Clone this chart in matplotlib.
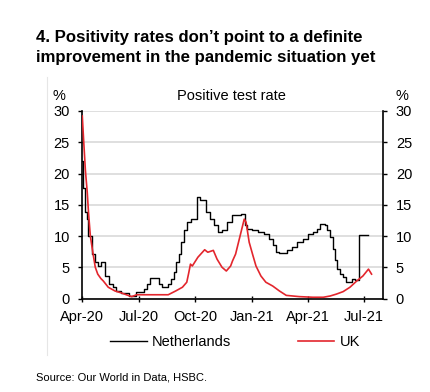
import numpy as np
import datetime as dt
import matplotlib
matplotlib.use("Agg")
import matplotlib.pyplot as plt
from matplotlib.lines import Line2D

# ---- data ----
start = np.datetime64("2020-04-01")

nl_days = [0, 1, 4, 7, 10, 15, 21, 26, 30, 36, 43, 49, 55, 63, 76, 87, 100, 105, 109,
           124, 129, 139, 144, 148, 152, 156, 160, 165, 169, 176, 185, 191, 200, 206,
           213, 220, 226, 234, 242, 256, 264, 267, 275, 284, 294, 302, 308, 313, 319,
           332, 340, 348, 357, 365, 373, 380, 384, 392, 396, 400, 405, 409, 412, 417,
           422, 427, 432, 437, 441, 447, 463]
nl_vals = [22.0, 17.6, 13.8, 12.7, 10.0, 7.1, 5.8, 5.2, 5.8, 3.6, 2.3, 1.8, 1.2, 0.9, 0.4,
           1.0, 1.6, 2.3, 3.3, 2.3, 1.8, 2.3, 3.1, 4.2, 5.8, 7.1, 9.0, 11.0, 12.2, 12.7,
           16.2, 15.7, 13.8, 12.7, 11.7, 10.7, 11.0, 12.2, 13.3, 13.6, 11.7, 11.2, 10.9,
           10.6, 10.4, 9.5, 8.5, 7.4, 7.3, 7.7, 8.2, 9.0, 9.5, 10.3, 10.7, 11.1, 11.9,
           11.7, 10.9, 9.9, 7.9, 6.1, 4.7, 3.9, 3.4, 2.7, 2.6, 3.1, 3.0, 10.2, 10.2]

uk_days = [0, 2, 5, 8, 10, 13, 17, 21, 25, 30, 34, 42, 53, 63, 74, 80, 88, 105, 123, 139,
           151, 162, 169, 172, 175, 178, 187, 198, 203, 212, 218, 226, 233, 240, 243, 248,
           250, 256, 262, 265, 270, 276, 281, 289, 297, 308, 319, 330, 351, 373, 390, 401,
           411, 422, 433, 444, 454, 463, 468]
uk_vals = [29.2, 25.6, 20.5, 17.0, 13.8, 10.0, 7.4, 5.0, 3.9, 3.2, 2.8, 1.8, 1.2, 0.9, 0.5,
           0.3, 0.6, 0.6, 0.6, 0.6, 1.2, 1.8, 2.6, 4.0, 5.5, 5.2, 6.6, 7.8, 7.4, 7.7, 6.3,
           5.0, 4.4, 5.2, 6.0, 7.1, 7.9, 10.3, 12.7, 12.2, 9.0, 6.9, 5.2, 3.6, 2.6, 2.0,
           1.2, 0.5, 0.3, 0.2, 0.2, 0.4, 0.7, 1.1, 1.8, 2.8, 3.6, 4.7, 3.9]

tick_dates = ["2020-04-01", "2020-07-01", "2020-10-01", "2021-01-01", "2021-04-01", "2021-07-01"]
tick_labels = ["Apr-20", "Jul-20", "Oct-20", "Jan-21", "Apr-21", "Jul-21"]
y_ticks = [0, 5, 10, 15, 20, 25, 30]

title_lines = ["4. Positivity rates don\u2019t point to a definite",
               "improvement in the pandemic situation yet"]
panel_title = "Positive test rate"
source_text = "Source: Our World in Data, HSBC."

# ---- figure ----
NARROW = ["Liberation Sans Narrow", "Liberation Sans", "DejaVu Sans"]
FS = 10.5
W, H = 430, 392
fig = plt.figure(figsize=(W / 100, H / 100), dpi=100)

L, R, T, B = 82.3, 383.3, 111.0, 298.5
ax = fig.add_axes([L / W, 1 - B / H, (R - L) / W, (B - T) / H])

nl_x = (start + np.array(nl_days).astype("timedelta64[D]")).astype(object)
uk_x = (start + np.array(uk_days).astype("timedelta64[D]")).astype(object)

ax.plot(nl_x, nl_vals, color="black", lw=1.0, drawstyle="steps-post", zorder=3)
ax.plot(uk_x, uk_vals, color="#E3262D", lw=1.2, zorder=4)

ax.set_xlim(dt.date(2020, 4, 1), dt.date(2021, 8, 1))
ax.set_ylim(0, 30)
ax.set_yticks(y_ticks)
ax.set_xticks([dt.date.fromisoformat(d) for d in tick_dates])
ax.set_xticklabels(tick_labels)

ax.grid(axis="y", color="#d6d6d6", lw=1.1, zorder=0)
ax.set_axisbelow(True)
for s in ["left", "right", "bottom"]:
    ax.spines[s].set_color("black")
    ax.spines[s].set_linewidth(1.2)
ax.spines["top"].set_visible(False)

ax.tick_params(axis="y", which="both", left=True, right=True, labelleft=True, labelright=True,
               direction="out", length=3, width=1.0, pad=6, labelsize=FS)
ax.tick_params(axis="x", direction="inout", length=5, width=1.0, pad=6, labelsize=FS)
for lab in ax.get_xticklabels() + ax.get_yticklabels():
    lab.set_family(NARROW)
for t in ax.yaxis.get_major_ticks():
    t.label2.set_family(NARROW)
    t.label2.set_fontsize(FS)

# axis unit labels and panel title
fig.text(59 / W, 1 - 100 / H, "%", family=NARROW, fontsize=FS, ha="center", va="baseline")
fig.text(402 / W, 1 - 100 / H, "%", family=NARROW, fontsize=FS, ha="center", va="baseline")
fig.text(231 / W, 1 - 100 / H, panel_title, family=NARROW, fontsize=FS, ha="center",
         va="baseline")

# main title
fig.text(36 / W, 1 - 42 / H, title_lines[0], family=["Liberation Sans", "DejaVu Sans"],
         fontsize=12.1, fontweight="bold", ha="left", va="baseline")
fig.text(36 / W, 1 - 62 / H, title_lines[1], family=["Liberation Sans", "DejaVu Sans"],
         fontsize=12.1, fontweight="bold", ha="left", va="baseline")

# legend
handles = [Line2D([], [], color="black", lw=1.0), Line2D([], [], color="#E3262D", lw=1.2)]
leg = fig.legend(handles, ["Netherlands", "UK"], loc="center", ncol=2,
                 bbox_to_anchor=(235 / W, 1 - 342 / H), frameon=False,
                 handlelength=2.5, handletextpad=0.35, columnspacing=4.6,
                 prop={"family": NARROW, "size": FS})

# faint panel border
fig.add_artist(Line2D([47 / W, 47 / W], [1 - 77 / H, 1 - 355 / H], color="#e6e6e6", lw=0.8,
                      transform=fig.transFigure))

# source
fig.text(36 / W, 1 - 378 / H, source_text, family=NARROW, fontsize=8, ha="left",
         va="center")

fig.savefig("out.png", dpi=100)
